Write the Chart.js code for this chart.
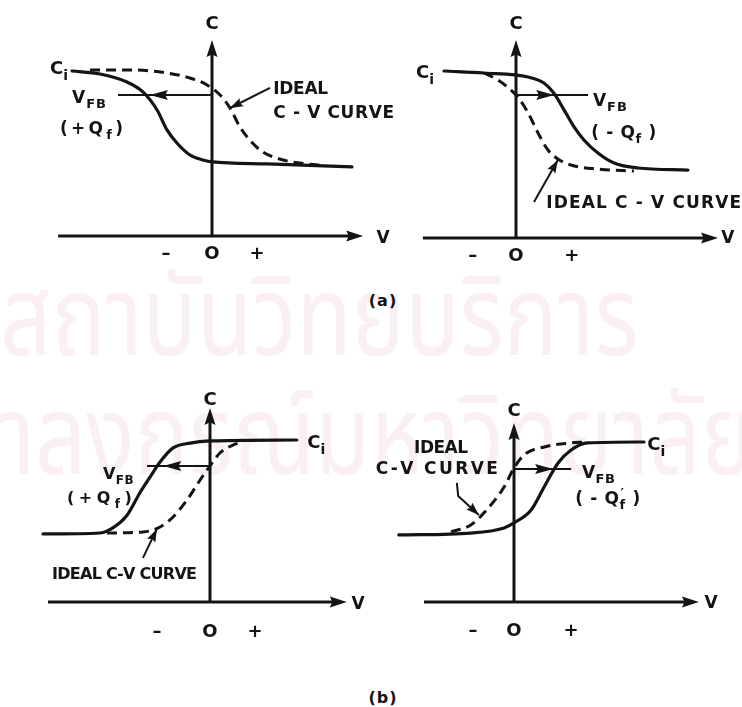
<!DOCTYPE html>
<html>
<head>
<meta charset="utf-8">
<title>C-V curves: effect of fixed oxide charge</title>
<script src="https://cdn.jsdelivr.net/npm/chart.js@4.4.1/dist/chart.umd.min.js"></script>
<style>
  html, body { margin: 0; padding: 0; background: #fff; }
  #page { position: relative; width: 742px; height: 707px; overflow: hidden; background: #fff; }
  .wm { position: absolute; white-space: nowrap; color: #faf0f3; line-height: 1;
        font-family: "Noto Sans Thai", "Noto Sans", "DejaVu Sans", sans-serif; font-size: 110px;
        transform-origin: 0 0; transform: scaleX(0.82); }
  canvas { position: absolute; }
  .cap { position: absolute; transform: translate(-50%, -50%); color: #141414;
         font: bold 16px "DejaVu Sans", sans-serif; letter-spacing: 1px; }
</style>
</head>
<body>
<div id="page">
  <div class="wm" id="wm1" style="left:0px; top:267px;">สถาบันวิทยบริการ</div>
  <div class="wm" id="wm2" style="left:0px; top:386px;"><span id="wmLead">จุฬ</span>าลงกรณ์มหาวิทยาลัย</div>
  <canvas id="cvA1"></canvas>
  <canvas id="cvA2"></canvas>
  <canvas id="cvB1"></canvas>
  <canvas id="cvB2"></canvas>
  <div class="cap" style="left:383px; top:300px;">(a)</div>
  <div class="cap" style="left:383px; top:697px;">(b)</div>
</div>
<script>
// Bias V in axis units (0 = C axis), capacitance normalised to C_i.

// (a) left: positive fixed charge, p-type
const vA1Shifted = [-3.11, -2.49, -1.89, -1.53, -1.22, -1.00, -0.78, -0.49, -0.20, 0.00, 1.22, 3.11];
const cA1Shifted = [0.994, 0.976, 0.928, 0.867, 0.759, 0.639, 0.560, 0.488, 0.458, 0.446, 0.434, 0.416];
const vA1Ideal   = [-2.71, -1.76, -1.00, -0.49, -0.11, 0.18, 0.40, 0.62, 0.84, 1.13, 1.58, 2.11, 2.40];
const cA1Ideal   = [1.000, 1.000, 0.982, 0.952, 0.910, 0.849, 0.771, 0.657, 0.578, 0.506, 0.458, 0.434, 0.428];

// (a) right: negative fixed charge, p-type
const vA2Shifted = [-1.60, -0.71, 0.27, 0.62, 0.84, 1.07, 1.29, 1.51, 1.82, 2.18, 2.71, 3.82];
const cA2Shifted = [1.000, 0.988, 0.964, 0.928, 0.868, 0.766, 0.665, 0.587, 0.509, 0.449, 0.419, 0.407];
const vA2Ideal   = [-0.71, -0.40, -0.11, 0.04, 0.27, 0.49, 0.71, 0.93, 1.22, 1.82, 2.62];
const cA2Ideal   = [0.988, 0.946, 0.886, 0.844, 0.749, 0.629, 0.527, 0.473, 0.437, 0.413, 0.401];

// (b) left: positive fixed charge, n-type
const vB1Shifted = [-3.71, -2.44, -2.16, -1.84, -1.56, -1.33, -1.11, -0.82, -0.44, 0.00, 1.93];
const cB1Shifted = [0.420, 0.426, 0.457, 0.537, 0.673, 0.772, 0.864, 0.951, 0.981, 0.994, 1.000];
const vB1Ideal   = [-2.29, -1.49, -1.11, -0.82, -0.51, -0.22, 0.00, 0.22, 0.51, 0.73];
const cB1Ideal   = [0.426, 0.432, 0.463, 0.525, 0.630, 0.753, 0.840, 0.920, 0.969, 0.988];

// (b) right: negative fixed charge, n-type
const vB2Shifted = [-2.56, -0.96, -0.22, 0.00, 0.38, 0.67, 0.98, 1.27, 1.64, 2.89];
const cB2Shifted = [0.419, 0.431, 0.463, 0.494, 0.575, 0.719, 0.869, 0.950, 0.994, 1.000];
const vB2Ideal   = [-1.40, -0.96, -0.67, -0.22, 0.00, 0.22, 0.67, 1.27, 1.56];
const cB2Ideal   = [0.438, 0.481, 0.556, 0.719, 0.838, 0.919, 0.969, 0.994, 1.000];

// Flat-band arrows: C level, arrow tip V, far end of the guide line
const vfbLevel = [0.849, 0.856, 0.840, 0.831];
const vfbTip   = [-1.38, 0.85, -1.04, 0.87];
const vfbEnd   = [-2.09, 1.60, -1.40, 1.27];

// Tick marks on the V axis
const tickLabels = ['\u2013', 'O', '+'];
const ticksA1 = [-1.02, 0, 1.00];
const ticksA2 = [-0.96, 0, 1.24];
const ticksB1 = [-1.18, 0, 1.00];
const ticksB2 = [-0.91, 0, 1.27];

const INK = '#141414';
const FONT = '"DejaVu Sans", "Liberation Sans", sans-serif';

// Canvas placement and axis origin (page px) with px per unit
const panels = [
  { id: 'cvA1', left: 0,   top: 0,   w: 400, h: 280, ox: 212, oy: 236, ux: 45, uy: 166,
    shifted: [vA1Shifted, cA1Shifted], ideal: [vA1Ideal, cA1Ideal], ticks: ticksA1, tickC: -0.102,
    xAxis: [-3.42, 3.36], yTop: 1.181,
    labels: [
      { s: 'C', v: 0, c: 1.289, size: 18, align: 'center' },
      { s: 'V', v: 3.80, c: -0.006, size: 17, align: 'center' },
      { s: 'C_{i}', v: -3.20, c: 1.012, size: 18, align: 'right' },
      { s: 'V_{FB}', v: -3.11, c: 0.840, size: 17, align: 'left', ls: 1 },
      { s: '(+Q_{f})', v: -3.38, c: 0.651, size: 17, align: 'left', w: 63 },
      { s: 'IDEAL', v: 1.36, c: 0.892, size: 17, align: 'left', w: 55 },
      { s: 'C - V CURVE', v: 1.36, c: 0.747, size: 17, align: 'left', w: 121 }
    ],
    leader: [[1.29, 0.892], [0.40, 0.771]] },
  { id: 'cvA2', left: 371, top: 0, w: 371, h: 280, ox: 516, oy: 238, ux: 45, uy: 167,
    shifted: [vA2Shifted, cA2Shifted], ideal: [vA2Ideal, cA2Ideal], ticks: ticksA2, tickC: -0.096,
    xAxis: [-2.07, 4.49], yTop: 1.186,
    labels: [
      { s: 'C', v: 0, c: 1.293, size: 18, align: 'center' },
      { s: 'V', v: 4.71, c: 0.006, size: 17, align: 'center' },
      { s: 'C_{i}', v: -1.82, c: 0.994, size: 18, align: 'right' },
      { s: 'V_{FB}', v: 1.71, c: 0.826, size: 17, align: 'left', ls: 1 },
      { s: '( - Q_{f} )', v: 1.67, c: 0.635, size: 17, align: 'left', w: 65 },
      { s: 'IDEAL C - V CURVE', v: 0.67, c: 0.216, size: 17, align: 'left', w: 195 }
    ],
    leader: [[0.40, 0.216], [0.93, 0.467]] },
  { id: 'cvB1', left: 0, top: 380, w: 380, h: 270, ox: 210, oy: 602, ux: 45, uy: 162,
    shifted: [vB1Shifted, cB1Shifted], ideal: [vB1Ideal, cB1Ideal], ticks: ticksB1, tickC: -0.173,
    xAxis: [-3.60, 3.04], yTop: 1.198,
    labels: [
      { s: 'C', v: 0, c: 1.259, size: 18, align: 'center' },
      { s: 'V', v: 3.29, c: -0.006, size: 17, align: 'center' },
      { s: 'C_{i}', v: 2.16, c: 0.988, size: 18, align: 'left' },
      { s: 'V_{FB}', v: -2.38, c: 0.796, size: 16, align: 'left', ls: 0.5 },
      { s: '(+Q_{f})', v: -3.18, c: 0.648, size: 16, align: 'left', w: 65 },
      { s: 'IDEAL C-V CURVE', v: -3.51, c: 0.179, size: 16, align: 'left', w: 145 }
    ],
    leader: [[-1.49, 0.272], [-1.18, 0.451]] },
  { id: 'cvB2', left: 371, top: 380, w: 371, h: 270, ox: 514, oy: 602, ux: 45, uy: 160,
    shifted: [vB2Shifted, cB2Shifted], ideal: [vB2Ideal, cB2Ideal], ticks: ticksB2, tickC: -0.175,
    xAxis: [-2.00, 4.11], yTop: 1.119,
    labels: [
      { s: 'C', v: 0, c: 1.206, size: 18, align: 'center' },
      { s: 'V', v: 4.38, c: 0, size: 17, align: 'center' },
      { s: 'C_{i}', v: 2.96, c: 0.988, size: 18, align: 'left' },
      { s: 'V_{FB}', v: 1.51, c: 0.813, size: 17, align: 'left', ls: 0.5 },
      { s: '( - Q^{\u2032}_{f} )', v: 1.36, c: 0.650, size: 17, align: 'left', w: 65 },
      { s: 'IDEAL', v: -2.22, c: 0.969, size: 17, align: 'left', w: 54 },
      { s: 'C-V CURVE', v: -3.07, c: 0.838, size: 17, align: 'left', w: 122 }
    ],
    leader: [[-1.27, 0.744], [-1.24, 0.663], [-0.78, 0.544]] }
];

// "V_{FB}" style markup -> segments (normal / subscript / superscript)
function parseRich(str) {
  const segs = [];
  const re = /([_^])\{([^}]*)\}|([^_^]+)/g;
  let m;
  while ((m = re.exec(str))) {
    if (m[3]) segs.push({ t: m[3], k: 'n' });
    else segs.push({ t: m[2], k: m[1] === '_' ? 'sub' : 'sup' });
  }
  return segs;
}

function drawRich(ctx, str, x, yc, size, align, width, spacing) {
  const segs = parseRich(str);
  const fontFor = k => `bold ${k === 'n' ? size : Math.round(size * 0.78)}px ${FONT}`;
  let natural = 0, n = 0;
  segs.forEach(s => {
    if (s.k === 'sup') return;
    ctx.font = fontFor(s.k);
    for (const ch of s.t) { natural += ctx.measureText(ch).width; n++; }
  });
  const ls = width ? (width - natural) / Math.max(1, n - 1) : (spacing || 0);
  const total = natural + ls * (n - 1);
  let cx = align === 'left' ? x : align === 'right' ? x - total : x - total / 2;
  const base = yc + size * 0.36;
  ctx.fillStyle = INK;
  ctx.textAlign = 'left';
  ctx.textBaseline = 'alphabetic';
  segs.forEach(s => {
    ctx.font = fontFor(s.k);
    if (s.k === 'sup') {
      ctx.fillText(s.t, cx + 1, base - size * 0.40);
      return;
    }
    const y = s.k === 'sub' ? base + size * 0.30 : base;
    for (const ch of s.t) {
      ctx.fillText(ch, cx, y);
      cx += ctx.measureText(ch).width + ls;
    }
  });
}

function arrowHead(ctx, x, y, ang, len, hw) {
  ctx.save();
  ctx.translate(x, y);
  ctx.rotate(ang);
  ctx.beginPath();
  ctx.moveTo(0, 0);
  ctx.lineTo(-len, -hw);
  ctx.lineTo(-len * 0.85, 0);
  ctx.lineTo(-len, hw);
  ctx.closePath();
  ctx.fillStyle = INK;
  ctx.fill();
  ctx.restore();
}

function makeNotes(p, idx) {
  return {
    id: 'cvNotes',
    afterDatasetsDraw(chart) {
      const ctx = chart.ctx;
      const X = v => chart.scales.x.getPixelForValue(v);
      const Y = c => chart.scales.y.getPixelForValue(c);
      ctx.save();
      ctx.strokeStyle = INK;
      ctx.lineCap = 'butt';

      // V axis
      ctx.lineWidth = 3;
      ctx.beginPath();
      ctx.moveTo(X(p.xAxis[0]), Y(0));
      ctx.lineTo(X(p.xAxis[1]) - 10, Y(0));
      ctx.stroke();
      arrowHead(ctx, X(p.xAxis[1]), Y(0), 0, 17, 5.5);
      // C axis
      ctx.beginPath();
      ctx.moveTo(X(0), Y(0) + 1);
      ctx.lineTo(X(0), Y(p.yTop) + 10);
      ctx.stroke();
      arrowHead(ctx, X(0), Y(p.yTop), -Math.PI / 2, 17, 5.5);

      // flat-band shift arrow
      ctx.lineWidth = 2;
      const yl = Y(vfbLevel[idx]);
      ctx.beginPath();
      ctx.moveTo(X(0), yl);
      ctx.lineTo(X(vfbEnd[idx]), yl);
      ctx.stroke();
      const dir = vfbTip[idx] < 0 ? Math.PI : 0;
      arrowHead(ctx, X(vfbTip[idx]), yl, dir, 18, 5);

      // leader to the ideal curve
      ctx.lineWidth = 2;
      ctx.beginPath();
      p.leader.forEach((pt, i) => {
        const fn = i ? 'lineTo' : 'moveTo';
        ctx[fn](X(pt[0]), Y(pt[1]));
      });
      ctx.stroke();
      const a = p.leader[p.leader.length - 2], b = p.leader[p.leader.length - 1];
      const ang = Math.atan2(Y(b[1]) - Y(a[1]), X(b[0]) - X(a[0]));
      arrowHead(ctx, X(b[0]), Y(b[1]), ang, 13, 4.5);

      // tick labels
      p.ticks.forEach((t, i) => drawRich(ctx, tickLabels[i], X(t), Y(p.tickC), 18, 'center'));
      // text labels
      p.labels.forEach(l => drawRich(ctx, l.s, X(l.v), Y(l.c), l.size, l.align, l.w, l.ls));
      ctx.restore();
    }
  };
}

// second watermark line starts part-way into its first word
(function () {
  const lead = document.getElementById('wmLead').getBoundingClientRect().width;
  document.getElementById('wm2').style.left = (-lead - 2) + 'px';
})();

panels.forEach((p, idx) => {
  const cv = document.getElementById(p.id);
  cv.width = p.w; cv.height = p.h;
  cv.style.left = p.left + 'px'; cv.style.top = p.top + 'px';
  cv.style.width = p.w + 'px'; cv.style.height = p.h + 'px';
  const ox = p.ox - p.left, oy = p.oy - p.top;
  const pts = (v, c) => v.map((x, i) => ({ x: x, y: c[i] }));
  new Chart(cv, {
    type: 'line',
    data: {
      datasets: [
        { label: 'shifted', data: pts(p.shifted[0], p.shifted[1]), borderColor: INK, borderWidth: 3.2,
          pointRadius: 0, cubicInterpolationMode: 'monotone', fill: false, borderCapStyle: 'round' },
        { label: 'ideal', data: pts(p.ideal[0], p.ideal[1]), borderColor: INK, borderWidth: 3,
          borderDash: [10, 6], pointRadius: 0, cubicInterpolationMode: 'monotone', fill: false }
      ]
    },
    options: {
      responsive: false, animation: false, events: [],
      layout: { padding: 0 },
      plugins: { legend: { display: false }, tooltip: { enabled: false } },
      scales: {
        x: { type: 'linear', display: false, min: -ox / p.ux, max: (p.w - ox) / p.ux },
        y: { type: 'linear', display: false, min: -(p.h - oy) / p.uy, max: oy / p.uy }
      }
    },
    plugins: [makeNotes(p, idx)]
  });
});
</script>
</body>
</html>
